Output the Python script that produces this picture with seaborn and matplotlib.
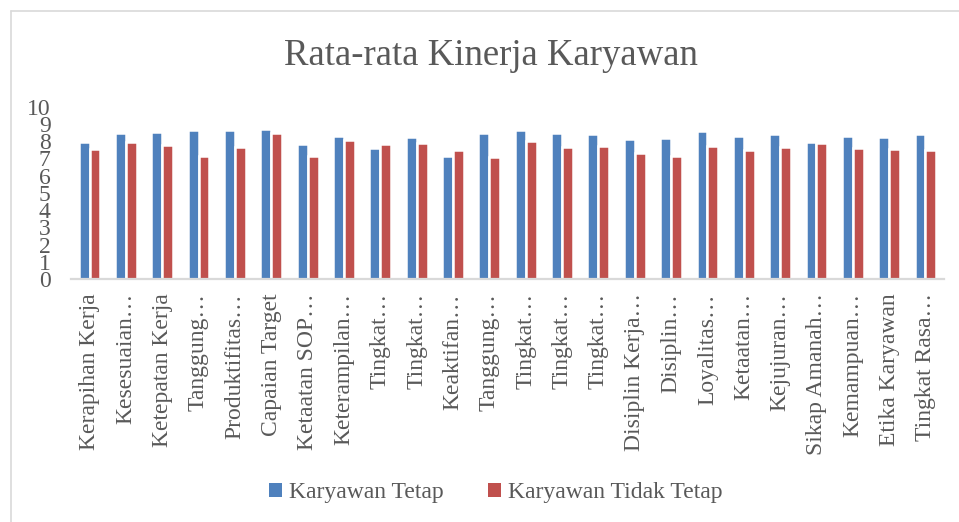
import matplotlib
matplotlib.use("Agg")
import matplotlib.pyplot as plt
import seaborn as sns
import pandas as pd
from matplotlib.patches import Patch
from matplotlib.lines import Line2D

categories = [
    "Kerapihan Kerja", "Kesesuaian…", "Ketepatan Kerja", "Tanggung…",
    "Produktifitas…", "Capaian Target", "Ketaatan SOP…", "Keterampilan…",
    "Tingkat…", "Tingkat…", "Keaktifan…", "Tanggung…",
    "Tingkat…", "Tingkat…", "Tingkat…", "Disiplin Kerja…",
    "Disiplin…", "Loyalitas…", "Ketaatan…", "Kejujuran…",
    "Sikap Amanah…", "Kemampuan…", "Etika Karyawan", "Tingkat Rasa…",
]
tetap = [7.94, 8.48, 8.52, 8.63, 8.67, 8.73, 7.86, 8.28,
         7.63, 8.25, 7.16, 8.46, 8.65, 8.50, 8.42, 8.13,
         8.17, 8.61, 8.28, 8.42, 7.95, 8.32, 8.23, 8.44]
tidak_tetap = [7.53, 7.97, 7.76, 7.16, 7.66, 8.48, 7.13, 8.07,
               7.82, 7.88, 7.51, 7.10, 8.01, 7.66, 7.72, 7.32,
               7.16, 7.72, 7.47, 7.66, 7.92, 7.61, 7.53, 7.47]
series_names = ["Karyawan Tetap", "Karyawan Tidak Tetap"]
yticks = list(range(0, 11))
title = "Rata-rata Kinerja Karyawan"

colors = ["#4F81BD", "#C0504D"]
text_color = "#595959"

sns.set_theme(style="white")
plt.rcParams["font.family"] = ["Liberation Serif", "DejaVu Serif"]

n = len(categories)
df = pd.DataFrame({
    "idx": list(range(n)) * 2,
    "value": tetap + tidak_tetap,
    "series": [series_names[0]] * n + [series_names[1]] * n,
})

fig = plt.figure(figsize=(9.59, 5.22), dpi=100)
ax = fig.add_axes([0.0744, 0.465, 0.9096, 0.3307])

sns.barplot(data=df, x="idx", y="value", hue="series", palette=colors,
            saturation=1, width=0.6, edgecolor="white", linewidth=1.8,
            ax=ax, legend=False)

ax.set_ylim(0, 10)
ax.set_xlim(-0.5, n - 0.5)
ax.set_yticks(yticks)
ax.set_yticklabels([str(t) for t in yticks], fontsize=17, color=text_color)
ax.set_xticks(range(n))
ax.set_xticklabels(categories, rotation=90, fontsize=17, color=text_color)
ax.tick_params(axis="x", length=0, pad=10)
ax.tick_params(axis="y", length=0, pad=15)
ax.set_xlabel("")
ax.set_ylabel("")
for s in ["top", "right", "left"]:
    ax.spines[s].set_visible(False)
ax.spines["bottom"].set_color("#d9d9d9")
ax.spines["bottom"].set_linewidth(1.6)

fig.text(0.512, 0.893, title, ha="center", va="center", fontsize=26.5,
         color=text_color)

handles = [Patch(facecolor=c, edgecolor="none") for c in colors]
fig.legend(handles, series_names, loc="center", bbox_to_anchor=(0.517, 0.056),
           ncol=2, frameon=False, fontsize=17, handlelength=0.55,
           handleheight=0.55, handletextpad=0.3, columnspacing=1.85,
           labelcolor=text_color)

# light chart border (top and left visible)
fig.add_artist(Line2D([10.5 / 959, 10.5 / 959], [0, 1 - 11 / 522],
                      transform=fig.transFigure, color="#d9d9d9", lw=1.2))
fig.add_artist(Line2D([10.5 / 959, 1], [1 - 11 / 522, 1 - 11 / 522],
                      transform=fig.transFigure, color="#d9d9d9", lw=1.2))

fig.savefig("out.png", dpi=100, facecolor="white")
